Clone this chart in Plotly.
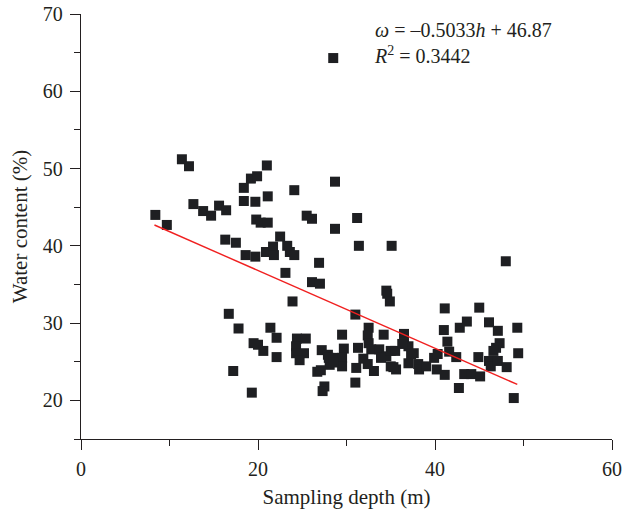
import plotly.graph_objects as go

# Sampling depth (m) and water content (%)
depth = [8.4, 9.7, 11.4, 12.2, 12.7, 13.8, 14.7, 15.6, 16.4, 16.3, 17.5, 18.4, 19.2, 19.9, 21.0,
         18.4, 19.7, 21.1, 19.8, 20.3, 21.1, 18.6, 19.7, 20.9, 21.7, 21.8, 22.5, 24.1, 28.7, 25.5,
         26.1, 31.2, 28.7, 23.3, 23.6, 24.1, 31.4, 35.1, 26.9, 23.1, 26.1, 27.0, 34.5, 28.5, 48.0,
         16.7, 17.8, 21.4, 22.1, 19.5, 20.0, 20.6, 22.1, 17.2, 19.3,
         23.9, 34.6, 34.9, 41.1, 31.0,
         24.4, 25.4, 24.3, 24.3, 25.2, 24.7,
         29.5, 27.2, 27.9, 28.5, 29.7, 29.5, 29.5, 28.1, 26.7, 27.1, 27.5, 27.3, 31.0, 31.3, 32.5,
         32.4, 34.2, 32.5, 32.8, 33.7, 34.5, 33.9, 31.9, 32.4, 33.1, 35.0, 35.5, 36.5, 36.5, 37.0,
         37.6, 35.0, 35.6, 37.0, 38.1, 38.2, 28.0, 28.5, 31.1, 35.3, 36.3, 37.3,
         45.0, 43.6, 42.8, 46.1, 47.1, 49.3, 41.0, 41.4, 47.3, 46.9, 46.6, 49.4, 44.9, 46.1, 46.3,
         47.1, 48.1, 41.6, 42.4, 39.9, 40.3, 39.0, 40.2, 41.1, 43.3, 44.1, 45.1, 42.7, 48.9]
water = [44.0, 42.7, 51.2, 50.3, 45.4, 44.5, 43.9, 45.2, 44.6, 40.8, 40.4, 47.5, 48.7, 49.0, 50.4,
         45.8, 45.7, 46.4, 43.4, 43.0, 43.0, 38.8, 38.6, 39.2, 39.9, 38.8, 41.2, 47.2, 48.3, 43.9,
         43.5, 43.6, 42.2, 40.0, 39.2, 38.8, 40.0, 40.0, 37.8, 36.5, 35.3, 35.1, 34.2, 64.3, 38.0,
         31.2, 29.3, 29.4, 28.1, 27.4, 27.2, 26.4, 25.6, 23.8, 21.0,
         32.8, 33.8, 32.8, 31.9, 31.1,
         28.0, 28.0, 27.0, 26.1, 26.1, 25.2,
         28.5, 26.5, 25.9, 25.5, 26.7, 25.5, 24.4, 24.6, 23.7, 23.9, 21.8, 21.2, 22.3, 26.8, 29.4,
         28.4, 28.5, 27.4, 26.6, 26.6, 25.7, 25.5, 25.4, 24.7, 23.8, 26.4, 26.4, 28.6, 27.4, 27.0,
         26.1, 24.4, 24.0, 24.8, 24.7, 24.0, 25.5, 24.9, 24.2, 24.3, 27.3, 26.0,
         32.0, 30.2, 29.4, 30.1, 29.0, 29.4, 29.1, 27.6, 27.4, 26.8, 26.4, 26.1, 25.6, 25.1, 24.4,
         25.1, 24.3, 26.3, 25.6, 25.5, 26.0, 24.4, 24.0, 23.3, 23.4, 23.4, 23.1, 21.6, 20.3]

# Linear fit reported on the chart
slope = -0.5033
intercept = 46.87
r2 = 0.3442
fit_depth = [8.3, 49.3]
fit_water = [slope * d + intercept for d in fit_depth]

x_ticks = [0, 20, 40, 60]
y_ticks = [20, 30, 40, 50, 60, 70]

FONT = "Liberation Serif"
TXT = "#231f20"
AX = "#231f20"

fig = go.Figure()
fig.add_trace(go.Scatter(
    x=depth, y=water, mode="markers",
    marker=dict(symbol="square", size=10, color="#1e1f22", line=dict(width=0)),
    showlegend=False, hoverinfo="x+y"))
fig.add_trace(go.Scatter(
    x=fit_depth, y=fit_water, mode="lines",
    line=dict(color="#f02020", width=1.4),
    showlegend=False, hoverinfo="skip"))

def axis(rng, ticks, minor_dtick, title, standoff, label_gap):
    return dict(
        range=rng, tickvals=ticks, automargin=False,
        showgrid=False, zeroline=False, showline=True, linecolor=AX, linewidth=1.3,
        ticks="outside", ticklen=10, tickwidth=1.3, tickcolor=AX,
        ticklabelstandoff=label_gap,
        tickfont=dict(family=FONT, size=20, color=TXT),
        minor=dict(ticks="outside", ticklen=6, tickwidth=1.3, tickcolor=AX, dtick=minor_dtick),
        title=dict(text=title, font=dict(family=FONT, size=21, color=TXT), standoff=standoff),
    )

fig.update_layout(
    width=623, height=514,
    margin=dict(l=81, r=11, t=14, b=75),
    paper_bgcolor="white", plot_bgcolor="white",
    font=dict(family=FONT, size=20, color=TXT),
    xaxis=axis([0, 60], x_ticks, 10, "Sampling depth (m)", 10, 2),
    yaxis=axis([15, 70], y_ticks, 5, "Water content (%)", 9, 3),
    annotations=[dict(
        x=0.548, y=1.0, xref="paper", yref="paper", xanchor="left", yanchor="top",
        yshift=-3, showarrow=False, align="left",
        text=f"<i>ω</i> = –{abs(slope):.4f}<i>h</i> + {intercept:.2f}<br><i>R</i><sup>2</sup> = {r2:.4f}",
        font=dict(family=FONT, size=20, color=TXT))],
)

fig.write_html("out.html")
